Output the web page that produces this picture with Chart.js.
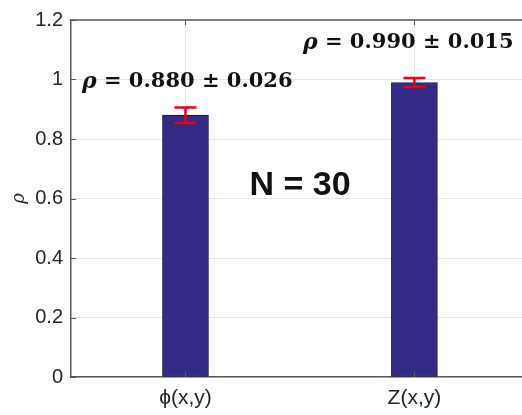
<!DOCTYPE html>
<html>
<head>
<meta charset="utf-8">
<script src="https://cdn.jsdelivr.net/npm/chart.js@4.4.1/dist/chart.umd.min.js"></script>
<style>
  html, body { margin: 0; padding: 0; background: #fff; overflow: hidden; }
</style>
</head>
<body>
<canvas id="rhoChart" width="522" height="415"></canvas>
<script>
// datos
const categorias = ['ϕ(x,y)', 'Z(x,y)'];
const valoresRho = [0.880, 0.990];
const erroresRho = [0.026, 0.015];
const etiquetasRho = [['ρ', ' = 0.880 ± 0.026'], ['ρ', ' = 0.990 ± 0.015']];
const tickY = [0, 0.2, 0.4, 0.6, 0.8, 1, 1.2];
const textoN = 'N = 30';

const AXIS_COLOR = '#5a5a5a';
const TEXT_COLOR = '#262626';
const GRID_COLOR = '#e6e6e6';

// solo las posiciones enteras son categorias
const esCategoria = v => Number.isInteger(v) && v >= 0 && v < categorias.length;

// barras de error, borde superior, marcas interiores y textos
const extrasPlugin = {
  id: 'extras',
  afterDatasetsDraw(chart) {
    const { ctx, chartArea: a, scales: { x, y } } = chart;
    ctx.save();

    // marcas interiores estilo MATLAB
    ctx.strokeStyle = AXIS_COLOR;
    ctx.lineWidth = 1;
    tickY.forEach(v => {
      const py = Math.round(y.getPixelForValue(v)) + 0.5;
      ctx.beginPath();
      ctx.moveTo(a.left, py);
      ctx.lineTo(a.left + 5, py);
      ctx.stroke();
    });
    categorias.forEach((_, i) => {
      const px = Math.round(x.getPixelForValue(i)) + 0.5;
      ctx.beginPath();
      ctx.moveTo(px, a.bottom);
      ctx.lineTo(px, a.bottom - 5);
      ctx.moveTo(px, a.top);
      ctx.lineTo(px, a.top + 5);
      ctx.stroke();
    });

    // borde superior
    ctx.lineWidth = 1.5;
    ctx.beginPath();
    ctx.moveTo(a.left, a.top);
    ctx.lineTo(a.right, a.top);
    ctx.stroke();

    // barras de error
    ctx.strokeStyle = '#e8001c';
    ctx.lineWidth = 2.5;
    valoresRho.forEach((v, i) => {
      const px = x.getPixelForValue(i);
      const yTop = y.getPixelForValue(v + erroresRho[i]);
      const yBot = y.getPixelForValue(v - erroresRho[i]);
      ctx.beginPath();
      ctx.moveTo(px, yTop);
      ctx.lineTo(px, yBot);
      ctx.moveTo(px - 11, yTop);
      ctx.lineTo(px + 11, yTop);
      ctx.moveTo(px - 11, yBot);
      ctx.lineTo(px + 11, yBot);
      ctx.stroke();
    });

    // anotaciones
    ctx.fillStyle = '#111';
    ctx.textBaseline = 'middle';
    ctx.textAlign = 'left';
    const posiciones = [[82, 82], [303, 43]];
    etiquetasRho.forEach((partes, i) => {
      let px = posiciones[i][0];
      ctx.font = 'italic bold 22px "DejaVu Serif"';
      ctx.fillText(partes[0], px, posiciones[i][1]);
      px += ctx.measureText(partes[0]).width;
      ctx.font = 'bold 21px "DejaVu Serif"';
      ctx.fillText(partes[1], px, posiciones[i][1]);
    });

    ctx.font = 'bold 34px "Liberation Sans"';
    ctx.textAlign = 'center';
    ctx.fillText(textoN, 300, 186);
    ctx.restore();
  }
};

const ctxRho = document.getElementById('rhoChart').getContext('2d');
new Chart(ctxRho, {
  type: 'bar',
  data: {
    datasets: [{
      data: valoresRho.map((v, i) => ({ x: i, y: v })),
      backgroundColor: '#332a86',
      borderColor: '#15133d',
      borderWidth: 1,
      borderSkipped: false,
      barThickness: 46
    }]
  },
  options: {
    responsive: false,
    animation: false,
    layout: { padding: { top: 16, right: 0, left: 0, bottom: 0 } },
    plugins: { legend: { display: false }, tooltip: { enabled: false } },
    scales: {
      x: {
        type: 'linear',
        min: -0.5,
        max: 1.47,
        offset: false,
        afterBuildTicks: s => { s.ticks = categorias.map((_, i) => ({ value: i })); },
        afterFit: s => { s.height = 38; s.paddingLeft = 0; s.paddingRight = 0; },
        ticks: {
          color: TEXT_COLOR,
          font: { family: 'Liberation Sans', size: 21 },
          padding: 9,
          callback: v => (esCategoria(v) ? categorias[v] : '')
        },
        grid: {
          offset: false,
          drawTicks: false,
          color: c => (c.tick && esCategoria(c.tick.value) ? GRID_COLOR : 'rgba(0,0,0,0)')
        },
        border: { color: AXIS_COLOR, width: 1.5 }
      },
      y: {
        min: 0,
        max: 1.2,
        afterFit: s => { s.width = 71; },
        grid: { color: GRID_COLOR, drawTicks: false },
        border: { color: AXIS_COLOR, width: 1.5 },
        title: {
          display: true,
          text: 'ρ',
          color: TEXT_COLOR,
          font: { family: 'DejaVu Serif', style: 'italic', size: 18 },
          padding: { top: 9, bottom: 0 }
        },
        ticks: {
          stepSize: 0.2,
          color: TEXT_COLOR,
          font: { family: 'Liberation Sans', size: 20 },
          padding: 8,
          callback: v => String(Math.round(v * 10) / 10)
        }
      }
    }
  },
  plugins: [extrasPlugin]
});
</script>
</body>
</html>
